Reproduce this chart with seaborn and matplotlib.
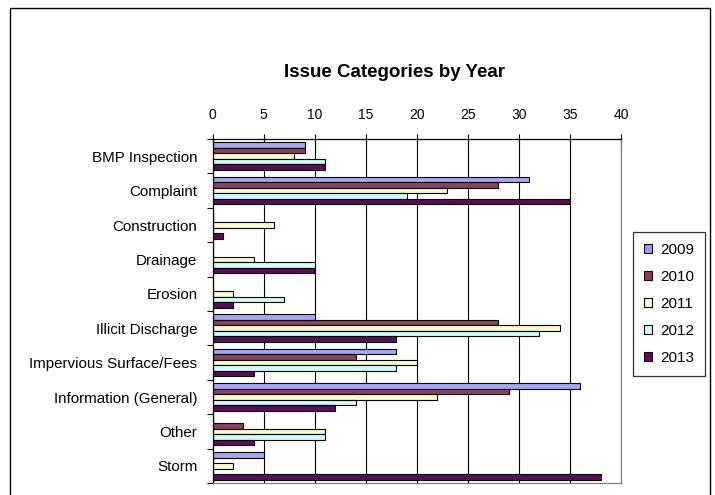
import matplotlib
matplotlib.use("Agg")
import matplotlib.pyplot as plt
import matplotlib.patches as mpatches
from matplotlib.ticker import MultipleLocator, FixedLocator
import seaborn as sns
import pandas as pd

# Issue counts per category and year
categories = ["BMP Inspection", "Complaint", "Construction", "Drainage", "Erosion",
              "Illicit Discharge", "Impervious Surface/Fees", "Information (General)",
              "Other", "Storm"]
years = ["2009", "2010", "2011", "2012", "2013"]
counts_2009 = [9, 31, 0, 0, 0, 10, 18, 36, 0, 5]
counts_2010 = [9, 28, 0, 0, 0, 28, 14, 29, 3, 0]
counts_2011 = [8, 23, 6, 4, 2, 34, 20, 22, 11, 2]
counts_2012 = [11, 19, 0, 10, 7, 32, 18, 14, 11, 0]
counts_2013 = [11, 35, 1, 10, 2, 18, 4, 12, 4, 38]
year_colors = ["#9999FF", "#993366", "#FFFFCC", "#CCFFFF", "#660066"]

series = [counts_2009, counts_2010, counts_2011, counts_2012, counts_2013]
rows = []
for yr, vals in zip(years, series):
    for cat, v in zip(categories, vals):
        rows.append({"Category": cat, "Year": yr, "Count": v})
df = pd.DataFrame(rows)

sns.set_style("white")
plt.rcParams["font.family"] = ["Liberation Sans", "DejaVu Sans"]
plt.rcParams["text.color"] = "black"
plt.rcParams["xtick.color"] = "black"
plt.rcParams["ytick.color"] = "black"
plt.rcParams["xtick.labelcolor"] = "black"
plt.rcParams["ytick.labelcolor"] = "black"

fig = plt.figure(figsize=(7.15, 4.95), dpi=100)
ax = fig.add_axes([0.2975, 0.0242, 0.5710, 0.6950])

sns.barplot(data=df, y="Category", x="Count", hue="Year", order=categories,
            hue_order=years, palette=year_colors, orient="h", width=0.8,
            edgecolor="black", linewidth=0.8, ax=ax, legend=True)

ax.set_xlim(0, 40)
ax.set_ylim(len(categories) - 0.5, -0.5)
ax.set_xlabel("")
ax.set_ylabel("")

# value axis on top
ax.xaxis.tick_top()
ax.xaxis.set_major_locator(MultipleLocator(5))
ax.tick_params(axis="x", which="major", direction="inout", length=7, width=0.8,
               color="black", labelcolor="black", pad=9, labelsize=10,
               top=True, bottom=False)
ax.grid(axis="x", color="black", linewidth=0.8)
ax.set_axisbelow(True)
gls = ax.get_xgridlines()
if gls:
    gls[-1].set_color("#808080")

# category boundary ticks
ax.yaxis.set_minor_locator(FixedLocator([i - 0.5 for i in range(len(categories) + 1)]))
ax.tick_params(axis="y", which="minor", direction="out", length=4, width=0.8,
               color="black", left=True)
ax.tick_params(axis="y", which="major", length=0, pad=11, labelsize=10.9,
               labelcolor="black")

for side in ["top", "left"]:
    ax.spines[side].set_color("black")
    ax.spines[side].set_linewidth(0.9)
for side in ["right", "bottom"]:
    ax.spines[side].set_color("#808080")
    ax.spines[side].set_linewidth(0.9)

# legend on the right
ax.legend_.remove()
handles = [mpatches.Patch(facecolor=c, edgecolor="black", linewidth=0.8) for c in year_colors]
leg = fig.legend(handles, years, loc="center", bbox_to_anchor=(0.9357, 0.3859),
                 frameon=True, fancybox=False, shadow=False, fontsize=11,
                 handlelength=0.55, handleheight=0.55, handletextpad=0.55,
                 labelspacing=0.85, borderpad=0.7, borderaxespad=0)
leg.get_frame().set_edgecolor("black")
leg.get_frame().set_linewidth(0.9)
for t in leg.get_texts():
    t.set_color("black")

fig.text(0.552, 0.844, "Issue Categories by Year", ha="center", va="baseline",
         fontsize=13.5, fontweight="bold", color="black")

# chart area border
border = mpatches.Rectangle((10 / 715, -0.1), 700 / 715, 1.1 - 8 / 495,
                            transform=fig.transFigure, fill=False,
                            edgecolor="black", linewidth=1.0, clip_on=False)
fig.patches.append(border)

fig.savefig("out.png", dpi=100)
